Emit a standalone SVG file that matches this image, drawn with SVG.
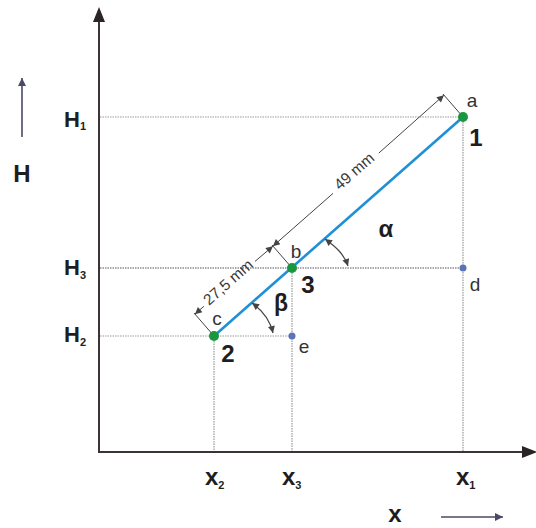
<svg xmlns="http://www.w3.org/2000/svg" width="536" height="528" viewBox="0 0 536 528">
<style>
.ax{stroke:#3a3434;stroke-width:2;fill:none}
.grid{stroke:#9a9a9a;stroke-width:1.2;stroke-dasharray:1.5,1;fill:none}
.dim{stroke:#444;stroke-width:1;fill:none}
.lbl{font-family:"Liberation Sans",Arial,sans-serif;font-weight:bold;fill:#1e1e1e}
.sm{font-family:"Liberation Sans",Arial,sans-serif;fill:#333;font-size:19px}
.dimt{font-family:"Liberation Sans",Arial,sans-serif;fill:#3a3a3a;font-size:15.5px}
</style>
<defs>
<marker id="ar" viewBox="0 0 10 10" refX="10" refY="5" markerWidth="10" markerHeight="7" markerUnits="userSpaceOnUse" orient="auto-start-reverse">
<path d="M0,0 L10,5 L0,10 z" fill="#444"/>
</marker>
<marker id="ar2" viewBox="0 0 10 10" refX="10" refY="5" markerWidth="9" markerHeight="8" markerUnits="userSpaceOnUse" orient="auto-start-reverse">
<path d="M0,0 L10,5 L0,10 z" fill="#4a4a66"/>
</marker>
</defs>
<g id="axes">
<line class="ax" x1="99" y1="453" x2="99" y2="20"/>
<path d="M93,22 L99,7 L105,22 z" fill="#2a2424"/>
<line class="ax" x1="98" y1="452" x2="524" y2="452"/>
<path d="M522,446 L537,452 L522,458 z" fill="#2a2424"/>
</g>
<g id="grid">
<line class="grid" x1="100" y1="117" x2="463" y2="117"/>
<line class="grid" x1="100" y1="268" x2="463" y2="268" style="stroke:#aaa;stroke-width:1.8"/>
<line class="grid" x1="100" y1="336" x2="292" y2="336"/>
<line class="grid" x1="214" y1="336" x2="214" y2="451"/>
<line class="grid" x1="292" y1="268" x2="292" y2="451"/>
<line class="grid" x1="463" y1="117" x2="463" y2="451"/>
</g>
<g id="connectors">
<line x1="214" y1="336" x2="463" y2="117" stroke="#1f8fd6" stroke-width="2.6"/>
<line class="dim" x1="463" y1="117" x2="443" y2="94"/>
<line class="dim" x1="292" y1="268" x2="272" y2="245"/>
<line class="dim" x1="214" y1="336" x2="194" y2="313"/>
<line class="dim" x1="333.0" y1="193.4" x2="272.9" y2="246.2" marker-end="url(#ar)"/>
<line class="dim" x1="378.8" y1="153.1" x2="443.9" y2="95.2" marker-end="url(#ar)"/>
<line class="dim" x1="203.9" y1="306.3" x2="194.9" y2="314.2" marker-end="url(#ar)"/>
<line class="dim" x1="255.0" y1="261.4" x2="272.9" y2="246.2" marker-end="url(#ar)"/>
<path class="dim" d="M325,239 C336,247 344,254 348,266" marker-start="url(#ar)" marker-end="url(#ar)" style="stroke-width:1.2"/>
<path class="dim" d="M252,303 C262,310 270,320 273,333" marker-start="url(#ar)" marker-end="url(#ar)" style="stroke-width:1.2"/>
<line x1="22" y1="137" x2="22" y2="78" stroke="#4a4a66" stroke-width="1.6" marker-end="url(#ar2)"/>
<line x1="441" y1="517" x2="503" y2="517" stroke="#4a4a66" stroke-width="1.6" marker-end="url(#ar2)"/>
</g>
<g id="dimlabels">
<text class="dimt" text-anchor="middle" transform="translate(354,171) rotate(-41.33)" y="5.5">49 mm</text>
<text class="dimt" text-anchor="middle" transform="translate(228,282) rotate(-41.33)" y="5.5">27,5 mm</text>
</g>
<g id="node1">
<circle cx="463" cy="117" r="5" fill="#1a9641"/>
<text class="sm" x="472" y="107" text-anchor="middle">a</text>
<text class="lbl" x="476" y="146" font-size="24" text-anchor="middle">1</text>
</g>
<g id="node3">
<circle cx="292" cy="268" r="5" fill="#1a9641"/>
<text class="sm" x="296" y="258" text-anchor="middle">b</text>
<text class="lbl" x="308" y="293" font-size="24" text-anchor="middle">3</text>
</g>
<g id="node2">
<circle cx="214" cy="336" r="5" fill="#1a9641"/>
<text class="sm" x="217" y="325" text-anchor="middle">c</text>
<text class="lbl" x="228" y="362" font-size="24" text-anchor="middle">2</text>
</g>
<g id="nodeD">
<circle cx="463" cy="268" r="3.5" fill="#5b74b8"/>
<text class="sm" x="475" y="291" text-anchor="middle">d</text>
</g>
<g id="nodeE">
<circle cx="292" cy="336" r="3.5" fill="#5b74b8"/>
<text class="sm" x="304" y="353" text-anchor="middle">e</text>
</g>
<g id="angles">
<text class="lbl" x="386" y="237" font-size="24" text-anchor="middle">α</text>
<text class="lbl" x="281" y="311" font-size="23" text-anchor="middle">β</text>
</g>
<g id="axislabels">
<text class="lbl" x="22" y="182" font-size="24" text-anchor="middle">H</text>
<text class="lbl" x="64" y="127" font-size="22">H<tspan font-size="11" dy="3">1</tspan></text>
<text class="lbl" x="64" y="275" font-size="22">H<tspan font-size="11" dy="4">3</tspan></text>
<text class="lbl" x="64" y="342" font-size="22">H<tspan font-size="11" dy="4">2</tspan></text>
<text class="lbl" x="205" y="485" font-size="24">x<tspan font-size="11" dy="4">2</tspan></text>
<text class="lbl" x="282" y="485" font-size="24">x<tspan font-size="11" dy="4">3</tspan></text>
<text class="lbl" x="456" y="485" font-size="24">x<tspan font-size="11" dy="4">1</tspan></text>
<text class="lbl" x="395" y="522" font-size="24" text-anchor="middle">x</text>
</g>
</svg>
